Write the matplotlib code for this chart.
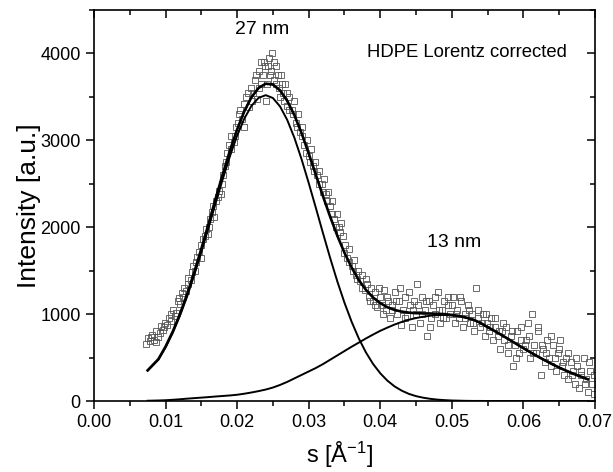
import matplotlib.pyplot as plt
from matplotlib.ticker import MultipleLocator, FormatStrFormatter

plt.rcParams['font.family'] = ['Liberation Sans', 'DejaVu Sans']
plt.rcParams['mathtext.default'] = 'regular'

# fitted curves
s_fit = [0.0075, 0.009, 0.010, 0.011, 0.012, 0.013, 0.014, 0.015, 0.016, 0.017,
         0.018, 0.019, 0.020, 0.021, 0.022, 0.023, 0.024, 0.025, 0.026, 0.027,
         0.028, 0.029, 0.030, 0.031, 0.032, 0.033, 0.034, 0.035, 0.036, 0.037,
         0.038, 0.039, 0.040, 0.041, 0.042, 0.043, 0.044, 0.045, 0.046, 0.047,
         0.048, 0.049, 0.050, 0.051, 0.052, 0.053, 0.054, 0.055, 0.056, 0.057,
         0.058, 0.059, 0.060, 0.061, 0.062, 0.063, 0.064, 0.065, 0.066, 0.067,
         0.068, 0.069]
peak_27nm = [350, 476, 617, 784, 979, 1200, 1447, 1713, 1992, 2277,
             2556, 2819, 3053, 3249, 3397, 3489, 3520, 3487, 3390, 3235,
             3030, 2784, 2510, 2223, 1931, 1646, 1377, 1131, 912, 720,
             559, 426, 319, 234, 168, 119, 82, 56, 38, 25,
             16, 10, 6, 4, 2, 1, 1, 0, 0, 0,
             0, 0, 0, 0, 0, 0, 0, 0, 0, 0,
             0, 0]
peak_13nm = [3, 6, 9, 14, 20, 27, 33, 39, 45, 52,
             58, 64, 72, 84, 98, 114, 132, 155, 185, 220,
             260, 300, 340, 380, 425, 475, 525, 575, 625, 672,
             720, 765, 808, 845, 880, 910, 935, 955, 970, 982,
             988, 990, 985, 975, 958, 935, 898, 850, 805, 757,
             708, 658, 608, 560, 513, 468, 425, 385, 348, 313,
             281, 250]
total_fit = [353, 482, 626, 798, 999, 1227, 1480, 1752, 2037, 2329,
             2614, 2883, 3125, 3333, 3495, 3603, 3652, 3642, 3575, 3455,
             3290, 3084, 2850, 2603, 2356, 2121, 1902, 1706, 1537, 1392,
             1279, 1191, 1127, 1079, 1048, 1029, 1017, 1011, 1008, 1007,
             1004, 1000, 991, 979, 960, 936, 899, 850, 805, 757,
             708, 658, 608, 560, 513, 468, 425, 385, 348, 313,
             281, 250]

# measured points
s_data = [0.0072, 0.0075, 0.0078, 0.0081, 0.0084, 0.0087, 0.0090, 0.0093, 0.0096, 0.0099,
          0.0102, 0.0105, 0.0108, 0.0111, 0.0114, 0.0117, 0.0120, 0.0123, 0.0126, 0.0129,
          0.0132, 0.0135, 0.0138, 0.0141, 0.0144, 0.0147, 0.0150,
          0.0153, 0.0156, 0.0159, 0.0162, 0.0165, 0.0168, 0.0171, 0.0174, 0.0177, 0.0180,
          0.0183, 0.0186, 0.0189, 0.0192, 0.0195, 0.0198,
          0.0201, 0.0204, 0.0207, 0.0210, 0.0213, 0.0216, 0.0219, 0.0222, 0.0225, 0.0228,
          0.0231, 0.0234, 0.0237, 0.0240, 0.0243, 0.0246, 0.0249, 0.0252, 0.0255, 0.0258,
          0.0261, 0.0264, 0.0267, 0.0270,
          0.0273, 0.0276, 0.0279, 0.0282, 0.0285, 0.0288, 0.0291, 0.0294, 0.0297, 0.0300,
          0.0303, 0.0306, 0.0309, 0.0312, 0.0315, 0.0318, 0.0321, 0.0324, 0.0327, 0.0330,
          0.0333, 0.0336, 0.0339, 0.0342, 0.0345, 0.0348,
          0.0351, 0.0354, 0.0357, 0.0360, 0.0363, 0.0366, 0.0369, 0.0372, 0.0375, 0.0378,
          0.0381, 0.0384, 0.0387, 0.0390, 0.0393, 0.0396, 0.0399, 0.0402, 0.0405, 0.0408,
          0.0411, 0.0414, 0.0417, 0.0420, 0.0423, 0.0426, 0.0429, 0.0432, 0.0435, 0.0438,
          0.0441, 0.0444, 0.0447, 0.0450,
          0.0453, 0.0456, 0.0459, 0.0462, 0.0465, 0.0468, 0.0471, 0.0474, 0.0477, 0.0480,
          0.0483, 0.0486, 0.0489, 0.0492, 0.0495, 0.0498, 0.0501, 0.0504, 0.0507, 0.0510,
          0.0513, 0.0516, 0.0519, 0.0522, 0.0525, 0.0528, 0.0531, 0.0534, 0.0537, 0.0540,
          0.0543, 0.0546, 0.0549, 0.0552, 0.0555, 0.0558, 0.0561, 0.0564, 0.0567, 0.0570,
          0.0573, 0.0576, 0.0579, 0.0582, 0.0585, 0.0588, 0.0591, 0.0594, 0.0597, 0.0600,
          0.0603, 0.0606, 0.0609, 0.0612, 0.0615, 0.0618, 0.0621, 0.0624, 0.0627, 0.0630,
          0.0633, 0.0636, 0.0639, 0.0642, 0.0645, 0.0648, 0.0651, 0.0654, 0.0657, 0.0660,
          0.0663, 0.0666, 0.0669, 0.0672, 0.0675, 0.0678, 0.0681, 0.0684, 0.0687, 0.0690,
          0.0693, 0.0696, 0.0699]
i_data = [660, 720, 690, 760, 700, 810, 740, 860, 820, 900,
          880, 960, 920, 1050, 1010, 1150, 1120, 1240, 1300, 1270,
          1420, 1390, 1550, 1500, 1660, 1720, 1800,
          1870, 1980, 1920, 2100, 2180, 2120, 2300, 2420, 2380, 2600,
          2700, 2850, 2950, 3050, 2980, 3150,
          3200, 3350, 3250, 3420, 3500, 3380, 3600, 3550, 3700, 3480,
          3800, 3650, 3900, 3450, 3850, 3750, 4000, 3700, 3850, 3600,
          3750, 3550, 3650, 3400,
          3500, 3350, 3450, 3200, 3300, 3100, 3150, 2950, 3000, 2820,
          2900, 2700, 2750, 2600, 2650, 2500, 2550, 2380, 2400, 2250,
          2300, 2100, 2150, 2000, 2050, 1900,
          1800, 1650, 1750, 1550, 1620, 1450, 1500, 1380, 1450, 1280,
          1350, 1200, 1300, 1150, 1250, 1080, 1200, 1100, 1280, 1050,
          1150, 950, 1100, 1250, 1000, 1150, 880, 1050, 1200, 980,
          1100, 850, 1150, 1000,
          1100, 900, 1200, 1050, 750, 1150, 950, 1100, 1000, 1250,
          900, 1050, 1150, 950, 1100, 1000, 1200, 900, 1050, 950,
          1150, 850, 1000, 1100, 900, 1000, 800, 1300, 950, 850,
          1000, 750, 900, 800, 950, 700, 850, 750, 600, 800,
          700, 850, 550, 750, 400, 650, 800, 550, 700, 600,
          700, 900, 500, 1000, 650, 550, 800, 300, 600, 450,
          700, 500, 400, 650, 350, 550, 700, 400, 300, 500,
          250, 450, 350, 200, 400, 150, 300, 500, 250, 100,
          350, 200, 80]

# second pass of points lying in between the first ones
s_data2 = [0.0080, 0.0086, 0.0092, 0.0098, 0.0107, 0.0113, 0.0119, 0.0125, 0.0131, 0.0137,
           0.0143, 0.0149, 0.0155, 0.0161, 0.0167, 0.0173, 0.0179, 0.0185, 0.0191, 0.0197,
           0.0203, 0.0209, 0.0215, 0.0221, 0.0227, 0.0230, 0.0233, 0.0236, 0.0239, 0.0242,
           0.0245, 0.0248, 0.0251, 0.0254, 0.0257, 0.0260, 0.0263, 0.0266, 0.0269,
           0.0272, 0.0278, 0.0284, 0.0290, 0.0296, 0.0302, 0.0308, 0.0314, 0.0320, 0.0326,
           0.0332, 0.0338, 0.0344, 0.0350,
           0.0356, 0.0362, 0.0368, 0.0374, 0.0380, 0.0386, 0.0392, 0.0398, 0.0404, 0.0410,
           0.0416, 0.0422, 0.0428, 0.0434, 0.0440, 0.0446, 0.0452, 0.0458, 0.0464, 0.0470,
           0.0476, 0.0482, 0.0488, 0.0494, 0.0500, 0.0506, 0.0512, 0.0518, 0.0524, 0.0530,
           0.0536, 0.0542, 0.0548, 0.0554, 0.0560, 0.0566, 0.0572, 0.0578, 0.0584, 0.0590,
           0.0596, 0.0602, 0.0608, 0.0614, 0.0620, 0.0626, 0.0632, 0.0638, 0.0644, 0.0650,
           0.0656, 0.0662, 0.0668, 0.0674, 0.0680, 0.0686, 0.0692, 0.0698]
i_data2 = [740, 680, 780, 850, 1000, 980, 1180, 1200, 1350, 1480,
           1600, 1650, 1900, 2000, 2250, 2350, 2500, 2750, 2900, 3050,
           3300, 3150, 3550, 3450, 3750, 3600, 3900, 3750, 3850, 3650,
           3950, 3800, 3900, 3650, 3750, 3500, 3650, 3450, 3550,
           3350, 3300, 3150, 3050, 2850, 2750, 2650, 2500, 2400, 2300,
           2150, 2000, 1950, 1700,
           1600, 1500, 1400, 1300, 1400, 1150, 1100, 1300, 1000, 1200,
           1050, 1150, 1300, 950, 1250, 1050, 1350, 1000, 1150, 850,
           1200, 1050, 950, 1200, 1100, 1000, 1200, 950, 1050, 900,
           1050, 900, 1000, 850, 950, 800, 900, 650, 800, 500,
           850, 650, 750, 550, 850, 650, 550, 750, 500, 600,
           450, 550, 300, 500, 350, 200, 450, 300]

fig = plt.figure(figsize=(6.13, 4.72), dpi=100)
ax = fig.add_axes([0.1533, 0.1504, 0.8173, 0.8284])

ax.plot(s_data + s_data2, i_data + i_data2, linestyle='none', marker='s', markersize=5,
        markerfacecolor='none', markeredgecolor='#555555', markeredgewidth=0.6)
ax.plot(s_fit, peak_27nm, color='black', lw=1.4)
ax.plot(s_fit, peak_13nm, color='black', lw=1.4)
ax.plot(s_fit, total_fit, color='black', lw=1.9)

ax.set_xlim(0, 0.07)
ax.set_ylim(0, 4500)
ax.xaxis.set_major_locator(MultipleLocator(0.01))
ax.xaxis.set_minor_locator(MultipleLocator(0.005))
ax.yaxis.set_major_locator(MultipleLocator(1000))
ax.yaxis.set_minor_locator(MultipleLocator(500))
ax.xaxis.set_major_formatter(FormatStrFormatter('%.2f'))

for sp in ax.spines.values():
    sp.set_linewidth(1.2)
ax.tick_params(which='both', direction='out', width=1.1, labelsize=13)
ax.tick_params(which='major', length=6)
ax.tick_params(which='minor', length=3.5)
# mirrored ticks on top/right pointing inward
ax.tick_params(which='both', top=True, right=True)
for t in ax.xaxis.get_major_ticks() + ax.xaxis.get_minor_ticks():
    t.tick2line.set_marker(3)
for t in ax.yaxis.get_major_ticks() + ax.yaxis.get_minor_ticks():
    t.tick2line.set_marker(0)

ax.set_xlabel('s [Å$^{-1}$]', fontsize=17)
ax.xaxis.set_label_coords(0.491, -0.10)
ax.set_ylabel('Intensity [a.u.]', fontsize=19)
ax.yaxis.set_label_coords(-0.106, 0.5)

ax.text(0.0235, 4280, '27 nm', fontsize=14, ha='center', va='center')
ax.text(0.0503, 1820, '13 nm', fontsize=14, ha='center', va='center')
ax.text(0.0381, 4010, 'HDPE Lorentz corrected', fontsize=13.3, ha='left', va='center')

fig.savefig('out.png', dpi=100)
